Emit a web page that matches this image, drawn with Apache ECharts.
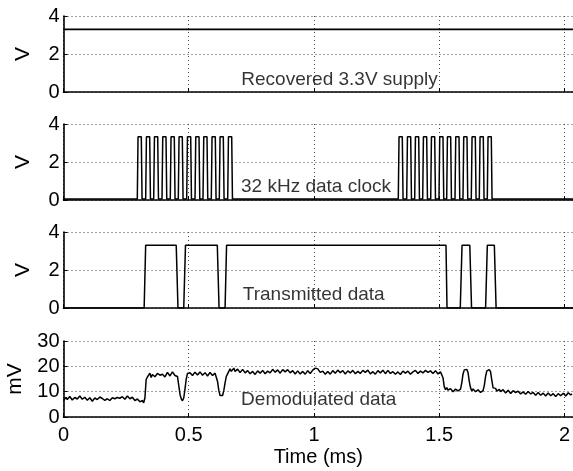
<!DOCTYPE html>
<html><head><meta charset="utf-8">
<script src="https://cdn.jsdelivr.net/npm/echarts@6/dist/echarts.min.js"></script>
<style>html,body{margin:0;padding:0;background:#fff}#c{width:573px;height:471px}</style>
</head><body><div id="c"></div><script>
// ---- data (time in ms) ----
const xMax = 2.034;
const xTicks = ['0', '0.5', '1', '1.5', '2'];
const supplyData = [[0, 3.3], [xMax, 3.3]];
const clockLow = 0.05;
const clockHigh = 3.33;
const clockPulseWidth = 0.019;
const clockRiseBurst1 = [0.2946, 0.3281, 0.3601, 0.3932, 0.4263, 0.4583, 0.4918, 0.5250, 0.5569, 0.5900, 0.6220, 0.6555];
const clockRiseBurst2 = [1.3365, 1.3701, 1.4020, 1.4339, 1.4659, 1.4990, 1.5297, 1.5629, 1.5948, 1.6280, 1.6599, 1.6918];
const txData = [[0,0],[0.322,0],[0.328,3.3],[0.450,3.3],[0.457,0],[0.480,0],[0.487,3.3],[0.614,3.3],[0.621,0],[0.645,0],[0.651,3.3],
  [1.527,3.3],[1.531,0],[1.584,0],[1.591,3.3],[1.622,3.3],[1.629,0],[1.685,0],[1.692,3.3],[1.720,3.3],[1.727,0],[xMax,0]];
const demodData = [
 [0.00,6.5],[0.005,7.2],[0.01,7.8],[0.015,6.9],[0.02,7.0],[0.025,8.1],[0.03,7.6],[0.035,6.7],[0.04,6.8],[0.045,7.7],[0.05,8.0],[0.055,7.1],[0.06,7.4],[0.065,8.3],[0.07,7.9],[0.075,7.0],[0.08,6.9],[0.085,7.8],[0.09,7.5],[0.095,6.6],
 [0.10,6.4],[0.105,7.6],[0.11,7.2],[0.115,6.2],[0.12,6.6],[0.125,7.5],[0.13,7.7],[0.135,6.9],[0.14,6.8],[0.145,7.9],[0.15,8.1],[0.155,7.3],[0.16,7.0],[0.165,6.6],[0.17,6.3],[0.175,7.2],[0.18,7.4],[0.185,6.5],[0.19,6.7],[0.195,7.6],
 [0.20,7.9],[0.205,7.2],[0.21,6.9],[0.215,7.7],[0.22,8.2],[0.225,7.4],[0.23,7.1],[0.235,8.0],[0.24,7.8],[0.245,7.0],[0.25,7.3],[0.255,8.3],[0.26,8.0],[0.265,7.2],[0.27,6.9],[0.275,7.8],[0.28,7.6],[0.285,6.5],[0.29,6.0],[0.295,7.1],
 [0.30,6.8],[0.305,6.0],[0.31,5.4],[0.315,6.5],[0.32,5.6],[0.325,7.5],[0.33,14.8],[0.335,15.8],[0.34,16.5],[0.345,17.3],[0.35,15.6],[0.355,16.8],[0.36,17.4],[0.365,15.9],
 [0.37,16.1],[0.375,17.2],[0.38,17.8],[0.385,16.5],[0.39,15.9],[0.395,16.9],[0.40,17.2],[0.405,15.8],[0.41,16.4],[0.415,17.6],[0.42,17.9],[0.425,16.2],[0.43,16.6],[0.435,17.8],[0.44,17.5],[0.445,16.4],[0.45,16.9],[0.455,16.0],
 [0.46,12.5],[0.465,9.0],[0.47,7.2],[0.475,6.4],[0.48,7.5],[0.485,11.0],[0.49,15.0],[0.495,17.2],[0.50,16.8],[0.505,17.5],[0.51,17.9],[0.515,16.4],[0.52,16.5],[0.525,17.7],
 [0.53,17.6],[0.535,16.6],[0.54,16.9],[0.545,17.8],[0.55,17.2],[0.555,16.5],[0.56,16.3],[0.565,17.5],[0.57,17.4],[0.575,16.2],[0.58,16.7],[0.585,17.6],[0.59,17.0],[0.595,16.4],[0.60,16.6],[0.605,17.3],[0.61,16.8],[0.615,14.0],
 [0.62,10.5],[0.625,8.5],[0.63,7.8],[0.635,8.5],[0.64,10.5],[0.645,13.5],[0.65,16.0],[0.655,17.0],[0.66,17.5],[0.665,19.0],[0.67,18.0],[0.675,18.7],
 [0.68,19.3],[0.685,18.0],[0.69,17.6],[0.695,18.9],[0.70,18.6],[0.705,17.5],[0.71,17.8],[0.715,18.8],[0.72,18.4],[0.725,17.4],[0.73,17.2],[0.735,18.3],[0.74,18.0],[0.745,17.1],[0.75,16.9],[0.755,18.0],[0.76,17.8],[0.765,16.8],[0.77,17.1],[0.775,18.2],
 [0.78,18.5],[0.785,17.3],[0.79,17.4],[0.795,18.4],[0.80,18.2],[0.805,17.1],[0.81,17.0],[0.815,18.1],[0.82,18.6],[0.825,17.4],[0.83,17.7],[0.835,18.8],[0.84,18.9],[0.845,17.7],[0.85,17.5],[0.855,18.6],[0.86,18.3],[0.865,17.3],[0.87,17.8],[0.875,18.7],
 [0.88,19.0],[0.885,17.8],[0.89,17.6],[0.895,18.7],[0.90,18.4],[0.905,17.4],[0.91,17.2],[0.915,18.3],[0.92,18.0],[0.925,17.0],[0.93,17.3],[0.935,18.2],[0.94,17.9],[0.945,17.0],[0.95,16.9],[0.955,18.0],[0.96,17.7],[0.965,16.9],[0.97,17.4],[0.975,18.3],
 [0.98,18.1],[0.985,17.2],[0.99,17.6],[0.995,18.5],[1.00,18.3],[1.005,19.3],[1.01,19.8],[1.015,19.0],[1.02,18.8],[1.025,17.6],[1.03,17.0],[1.035,18.1],[1.04,17.8],[1.045,16.9],[1.05,16.8],[1.055,18.0],[1.06,17.9],[1.065,16.9],[1.07,17.3],[1.075,18.3],
 [1.08,18.4],[1.085,17.3],[1.09,17.5],[1.095,18.5],[1.10,18.6],[1.105,17.5],[1.11,17.4],[1.115,18.3],[1.12,17.9],[1.125,17.0],[1.13,17.1],[1.135,18.2],[1.14,18.5],[1.145,17.4],[1.15,17.4],[1.155,18.4],[1.16,18.1],[1.165,17.1],[1.17,17.0],[1.175,18.0],
 [1.18,18.2],[1.185,17.2],[1.19,17.3],[1.195,18.4],[1.20,18.6],[1.205,17.6],[1.21,17.6],[1.215,18.5],[1.22,18.0],[1.225,17.0],[1.23,16.9],[1.235,17.9],[1.24,17.8],[1.245,16.9],[1.25,17.2],[1.255,18.3],[1.26,18.4],[1.265,17.4],[1.27,17.5],[1.275,18.5],
 [1.28,18.0],[1.285,17.1],[1.29,17.3],[1.295,18.4],[1.30,18.2],[1.305,17.2],[1.31,17.0],[1.315,17.9],[1.32,17.8],[1.325,16.9],[1.33,16.8],[1.335,17.8],[1.34,17.6],[1.345,16.8],[1.35,17.1],[1.355,18.1],[1.36,18.3],[1.365,17.3],[1.37,17.2],[1.375,18.1],
 [1.38,17.9],[1.385,16.9],[1.39,16.8],[1.395,17.8],[1.40,17.5],[1.405,18.4],[1.41,18.2],[1.415,17.2],[1.42,17.0],[1.425,18.1],[1.43,18.4],[1.435,17.4],[1.44,17.3],[1.445,18.4],[1.45,18.7],[1.455,17.6],[1.46,17.1],[1.465,18.2],[1.47,18.0],[1.475,17.2],
 [1.48,17.4],[1.485,18.3],[1.49,17.9],[1.495,17.0],[1.50,16.9],[1.505,17.8],[1.51,17.3],[1.515,15.5],[1.52,12.0],[1.525,10.8],[1.53,11.6],[1.535,10.6],[1.54,10.2],[1.545,11.2],[1.55,10.9],
 [1.555,10.0],[1.56,10.1],[1.565,11.0],[1.57,11.2],[1.575,10.3],[1.58,10.5],[1.585,11.0],[1.59,13.5],[1.595,17.0],[1.60,18.6],[1.605,18.2],[1.61,18.8],[1.615,17.5],
 [1.62,14.0],[1.625,11.5],[1.63,10.3],[1.635,11.1],[1.64,10.9],[1.645,10.0],[1.65,9.6],[1.655,10.7],[1.66,10.6],[1.665,9.7],[1.67,9.8],[1.675,10.4],[1.68,12.5],[1.685,16.0],
 [1.69,18.2],[1.695,18.5],[1.70,18.7],[1.705,17.8],[1.71,14.5],[1.715,11.5],[1.72,10.8],[1.725,11.3],[1.73,10.2],[1.735,10.6],[1.74,10.9],[1.745,10.0],[1.75,9.8],[1.755,10.8],
 [1.76,10.5],[1.765,9.5],[1.77,9.6],[1.775,10.6],[1.78,10.3],[1.785,9.3],[1.79,9.4],[1.795,10.4],[1.80,10.6],[1.805,9.6],[1.81,9.3],[1.815,10.2],[1.82,10.1],[1.825,9.1],[1.83,8.9],[1.835,9.9],[1.84,9.9],[1.845,9.0],[1.85,9.2],[1.855,10.1],
 [1.86,10.0],[1.865,9.1],[1.87,8.8],[1.875,9.7],[1.88,9.6],[1.885,8.6],[1.89,8.7],[1.895,9.7],[1.90,9.5],[1.905,8.6],[1.91,8.4],[1.915,9.4],[1.92,9.3],[1.925,8.3],[1.93,8.6],[1.935,9.5],[1.94,9.4],[1.945,8.4],[1.95,8.3],[1.955,9.2],
 [1.96,9.0],[1.965,8.1],[1.97,8.2],[1.975,9.2],[1.98,9.3],[1.985,8.4],[1.99,8.5],[1.995,9.4],[2.00,9.1],[2.005,8.3],[2.01,8.7],[2.015,9.6],[2.02,9.5],[2.025,8.7],[2.03,9.2]
];
const panelNames = ['V', 'V', 'V', 'mV'];
const panelMax = [4, 4, 4, 30];
const panelInterval = [2, 2, 2, 10];
const annotations = [
  {panel: 0, text: 'Recovered 3.3V supply', x: 1.102, y: 0.63},
  {panel: 1, text: '32 kHz data clock', x: 1.008, y: 0.70},
  {panel: 2, text: 'Transmitted data', x: 0.999, y: 0.70},
  {panel: 3, text: 'Demodulated data', x: 1.019, y: 7.0}
];

// ---- build ----
function pulses(rises) {
  const pts = [];
  rises.forEach(t => {
    pts.push([t, clockLow], [t + 0.003, clockHigh], [t + clockPulseWidth - 0.003, clockHigh], [t + clockPulseWidth, clockLow]);
  });
  return pts;
}
const clockData = [[0, clockLow]].concat(pulses(clockRiseBurst1), pulses(clockRiseBurst2), [[xMax, clockLow]]);

const FONT = 'Liberation Sans, Arial, Helvetica, sans-serif';
const tops = [16, 124, 232, 341];
const grids = tops.map(t => ({left: 63.5, right: 0, top: t, height: 76, containLabel: false, outerBoundsMode: 'none'}));
const xAxes = tops.map((t, i) => ({
  type: 'value', gridIndex: i, min: 0, max: xMax, interval: 0.5,
  axisLine: {show: true, onZero: false, lineStyle: {color: '#000', width: 1.6}},
  axisTick: {show: true, inside: true, length: 4, lineStyle: {color: '#000', width: 1}},
  axisLabel: {show: i === 3, showMaxLabel: false, fontFamily: FONT, fontSize: 20, color: '#000', margin: 8,
    formatter: v => { const k = Math.round(v / 0.5); return Math.abs(v - k * 0.5) < 1e-6 ? xTicks[k] : ''; }},
  splitLine: {show: true, lineStyle: {color: '#444', type: [1, 3], width: 1}},
  name: i === 3 ? 'Time (ms)' : '', nameLocation: 'middle', nameGap: 30,
  nameTextStyle: {fontFamily: FONT, fontSize: 20, color: '#000'}
}));
const yAxes = tops.map((t, i) => ({
  type: 'value', gridIndex: i, min: 0, max: panelMax[i], interval: panelInterval[i],
  axisLine: {show: true, lineStyle: {color: '#000', width: 1.6}},
  axisTick: {show: true, inside: true, length: 4, lineStyle: {color: '#000', width: 1}},
  axisLabel: {fontFamily: FONT, fontSize: 20, color: '#000', margin: 4},
  splitLine: {show: true, lineStyle: {color: '#444', type: [1, 3], width: 1}},
  name: panelNames[i], nameLocation: 'middle', nameGap: i === 3 ? 38 : 30,
  nameTextStyle: {fontFamily: FONT, fontSize: 21, color: '#000'}
}));
function lineSeries(idx, data, w) {
  return {type: 'line', xAxisIndex: idx, yAxisIndex: idx, data: data, showSymbol: false, symbol: 'none',
    lineStyle: {color: '#000', width: w}, silent: true, z: 5};
}
const series = [
  lineSeries(0, supplyData, 1.7),
  lineSeries(1, clockData, 1.5),
  lineSeries(2, txData, 1.5),
  lineSeries(3, demodData, 1.5)
].concat(annotations.map(a => ({
  type: 'scatter', xAxisIndex: a.panel, yAxisIndex: a.panel, symbolSize: 0, silent: true, z: 10,
  itemStyle: {color: '#000'},
  data: [{value: [a.x, a.y], name: a.text}],
  label: {show: true, position: 'inside', formatter: '{b}', fontFamily: FONT, fontSize: 19, color: '#000',
    textBorderWidth: 0, textBorderColor: 'transparent'}
})));

const chart = echarts.init(document.getElementById('c'), null, {renderer: 'canvas'});
chart.setOption({animation: false, backgroundColor: '#fff', grid: grids, xAxis: xAxes, yAxis: yAxes, series: series});
</script></body></html>
